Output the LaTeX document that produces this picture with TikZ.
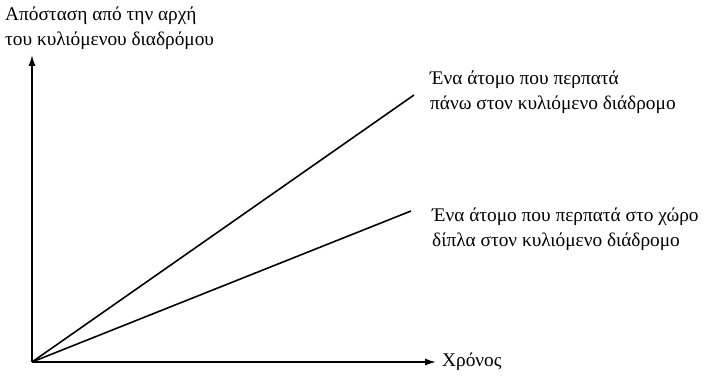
\documentclass[tikz,border=0pt]{standalone}
\usepackage{fontspec}
\setmainfont{Liberation Serif}
\usetikzlibrary{arrows.meta}

\tikzset{
    axis/.style={line width=1.5pt, -{Latex[length=11pt,width=7pt]}},
    walkline/.style={line width=1.6pt},
    lbl/.style={inner sep=0pt, align=left, font=\fontsize{19.4}{25}\selectfont}
}

\begin{document}
\begin{tikzpicture}[x=1bp,y=1bp]
    \useasboundingbox (0,0) rectangle (717,377);
    % axes
    \coordinate (origin) at (32,15);
    \coordinate (ytop) at (32,322);
    \coordinate (xend) at (436,15);
    \draw[axis] (origin) -- (ytop);
    \draw[axis] (origin) -- (xend);
    % the two walkers
    \coordinate (fast) at (414,282);
    \coordinate (slow) at (411,166);
    \draw[walkline] (origin) -- (fast);
    \draw[walkline] (origin) -- (slow);
    % labels
    \node[lbl, anchor=west] (ylabel) at (5,349) {Απόσταση από την αρχή\\του κυλιόμενου διαδρόμου};
    \node[lbl, anchor=west] (xlabel) at (442,15) {Χρόνος};
    \node[lbl, anchor=west] (fastlabel) at (430,285) {Ένα άτομο που περπατά\\πάνω στον κυλιόμενο διάδρομο};
    \node[lbl, anchor=west] (slowlabel) at (432,148) {Ένα άτομο που περπατά στο χώρο\\δίπλα στον κυλιόμενο διάδρομο};
\end{tikzpicture}
\end{document}
